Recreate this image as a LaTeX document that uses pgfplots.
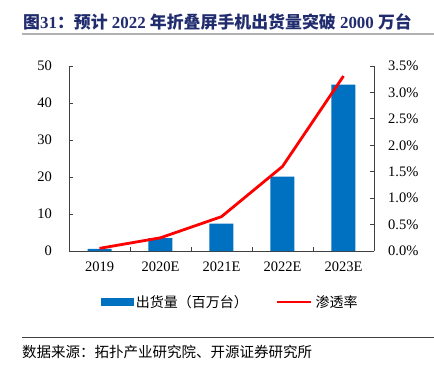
\documentclass[border=0pt]{standalone}
\usepackage{fontspec}
\setmainfont{Liberation Serif}
\newfontfamily\cjk{Noto Sans CJK SC}
\usepackage{pgfplots}
\pgfplotsset{compat=1.18}
\definecolor{barblue}{RGB}{0,112,192}
\definecolor{titleblue}{RGB}{32,44,110}
\begin{document}
\begin{tikzpicture}
\path[use as bounding box] (0pt,0pt) rectangle (434pt,368pt);
\node[anchor=west, text=titleblue, font=\fontsize{16.9}{18}\selectfont\bfseries, inner sep=0] at (23pt,346pt) {{\cjk 图}31{\cjk ：预计} 2022 {\cjk 年折叠屏手机出货量突破} 2000 {\cjk 万台}};
\draw[gray!60, line width=2pt] (22pt,334pt) -- (434pt,334pt);
\draw[black!75, line width=1pt] (22pt,31pt) -- (434pt,31pt);
\node[anchor=west, font=\cjk\fontsize{14.5}{16}\selectfont, inner sep=0] at (22pt,16pt) {数据来源：拓扑产业研究院、开源证券研究所};
\begin{axis}[
  at={(69pt,117pt)}, anchor=south west,
  width=305pt, height=185pt, scale only axis,
  xmin=-0.5, xmax=4.5, ymin=0, ymax=50,
  ytick={0,10,...,50},
  xtick={0,...,4},
  xticklabels={2019,2020E,2021E,2022E,2023E},
  minor xtick={0.5,1.5,2.5,3.5},
  axis x line*=bottom, axis y line*=left,
  axis line style={black!75, line width=0.8pt, -},
  tick align=inside,
  major tick length=4pt, minor tick length=4.5pt,
  x tick style={draw=none},
  minor x tick style={draw=black!75, line width=0.8pt},
  y tick style={black!75, line width=0.8pt},
  tick label style={font=\fontsize{14.5}{16}\selectfont},
  /pgf/number format/assume math mode=true,
  yticklabel style={inner sep=0pt, xshift=-17pt},
  xticklabel style={inner sep=0pt, yshift=-11pt},
  clip=false,
]
\addplot[ybar, bar width=24pt, fill=barblue, draw=none] coordinates {(0,0.6) (1,3.5) (2,7.4) (3,20.1) (4,45.0)};
\end{axis}
\begin{axis}[
  at={(69pt,117pt)}, anchor=south west,
  width=305pt, height=185pt, scale only axis,
  xmin=-0.5, xmax=4.5, ymin=0, ymax=3.5,
  ytick={0,0.5,...,3.5},
  hide x axis,
  axis y line*=right,
  axis line style={black!75, line width=0.8pt, -},
  tick align=inside,
  major tick length=4pt,
  y tick style={black!75, line width=0.8pt},
  tick label style={font=\fontsize{14.5}{16}\selectfont},
  /pgf/number format/assume math mode=true,
  yticklabel={\pgfmathprintnumber[fixed,fixed zerofill,precision=1]{\tick}\%},
  yticklabel style={inner sep=0pt, xshift=14pt},
  legend columns=2,
  legend style={at={(0.53,-0.276)}, anchor=center, draw=none, fill=none,
    font=\cjk\fontsize{14}{16}\selectfont,
    /tikz/every even column/.append style={column sep=25pt},
    nodes={inner sep=3pt}},
  clip=false,
]
\addlegendimage{legend image code/.code={\fill[barblue] (0pt,-3.5pt) rectangle (32pt,3.5pt);}}
\addlegendentry{出货量（百万台）}
\addplot[red, line width=2.8pt, legend image code/.code={\draw[red, line width=2.8pt] (0pt,0pt) -- (34pt,0pt);}] coordinates {(0,0.05) (1,0.25) (2,0.65) (3,1.6) (4,3.31)};
\addlegendentry{渗透率}
\end{axis}
\end{tikzpicture}
\end{document}
